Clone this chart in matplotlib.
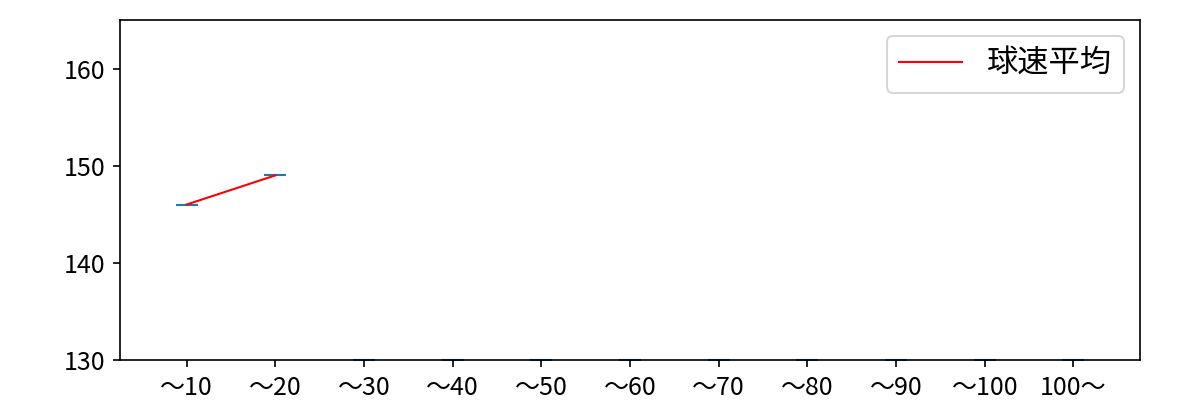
import matplotlib
matplotlib.use("Agg")
import matplotlib.pyplot as plt
import numpy as np

plt.rcParams['font.family'] = ['Noto Sans CJK JP', 'DejaVu Sans']

categories = ["～10", "～20", "～30", "～40", "～50", "～60", "～70", "～80", "～90", "～100", "100～"]
avg_speed = [146.0, 149.0, np.nan, np.nan, np.nan, np.nan, np.nan, np.nan, np.nan, np.nan, np.nan]
marker_vals = [146.0, 149.0, 130, 130, 130, 130, 130, 130, 130, 130, 130]

fig = plt.figure(figsize=(8, 8 / 3), dpi=150)
ax = fig.add_axes([0.1, 0.1, 0.85, 0.85])
x = np.arange(len(categories))
ax.plot(x, marker_vals, linestyle='none', marker='_', markersize=10.5, markeredgewidth=1,
        color='#1f77b4', zorder=1)
ax.plot(x, avg_speed, color='red', linewidth=1, label='球速平均', zorder=2)
ax.set_ylim(130, 165)
ax.set_yticks([130, 140, 150, 160])
ax.set_xticks(x)
ax.set_xticklabels(categories)
ax.set_xlim(-0.75, len(categories) - 0.25)
ax.tick_params(labelsize=12)
for s in ax.spines.values():
    s.set_zorder(3)
ax.legend(loc='upper right', fontsize=15)
fig.savefig("out.png", dpi=150)
